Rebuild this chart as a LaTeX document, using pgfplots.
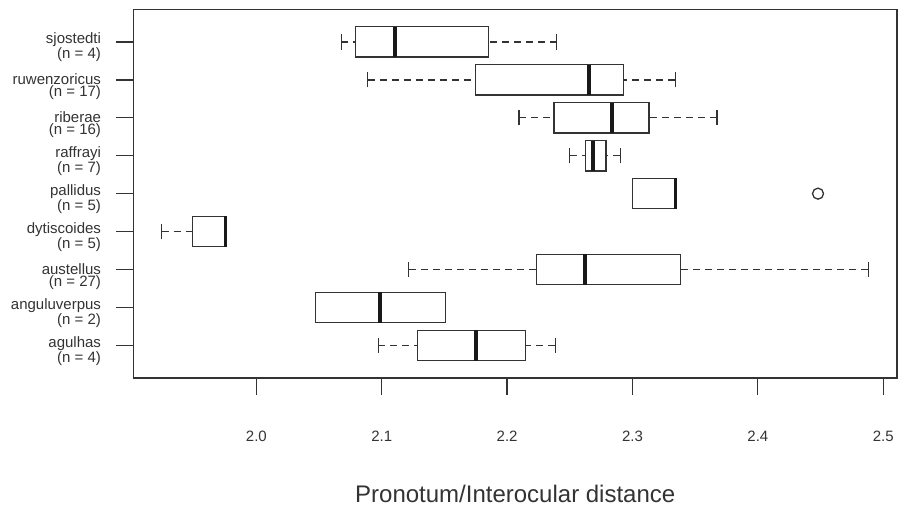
\documentclass[border=0pt]{standalone}
\usepackage{pgfplots}
\pgfplotsset{compat=1.18}
\usepgfplotslibrary{statistics}
\usepackage{fontspec}
\setmainfont{Liberation Sans}
\definecolor{ln}{HTML}{333333}
\pgfplotsset{
  boxplot/draw/lower whisker/.code={%
    \draw[ln, line width=1.3bp, dash pattern=on 7bp off 5bp]
      (boxplot box cs:\pgfplotsboxplotvalue{lower whisker},0.5) -- (boxplot box cs:\pgfplotsboxplotvalue{lower quartile},0.5);
    \draw[ln, line width=1.3bp]
      (boxplot whisker cs:\pgfplotsboxplotvalue{lower whisker},0) -- (boxplot whisker cs:\pgfplotsboxplotvalue{lower whisker},1);
  },
  boxplot/draw/upper whisker/.code={%
    \draw[ln, line width=1.3bp, dash pattern=on 7bp off 5bp]
      (boxplot box cs:\pgfplotsboxplotvalue{upper whisker},0.5) -- (boxplot box cs:\pgfplotsboxplotvalue{upper quartile},0.5);
    \draw[ln, line width=1.3bp]
      (boxplot whisker cs:\pgfplotsboxplotvalue{upper whisker},0) -- (boxplot whisker cs:\pgfplotsboxplotvalue{upper whisker},1);
  },
}
\begin{document}
\begin{tikzpicture}
\path[use as bounding box] (0,0) rectangle (900bp,508bp);
\begin{axis}[
  at={(133.5bp,130bp)}, anchor=south west,
  width=763.5bp, height=368.7bp, scale only axis,
  xmin=1.902, xmax=2.511, ymin=0.14, ymax=9.86,
  xtick={2.0,2.1,2.2,2.3,2.4,2.5},
  xticklabels={2.0,2.1,2.2,2.3,2.4,2.5},
  ytick={1,2,3,4,5,6,7,8,9},
  yticklabels={{agulhas\\(n = 4)},{anguluverpus\\(n = 2)},{austellus\\(n = 27)},{dytiscoides\\(n = 5)},{pallidus\\(n = 5)},{raffrayi\\(n = 7)},{riberae\\(n = 16)},{ruwenzoricus\\(n = 17)},{sjostedti\\(n = 4)}},
  tick pos=left, tick align=outside, major tick length=17bp,
  minor tick num=0,
  /pgf/number format/assume math mode=true,
  axis line style={ln, line width=1.3bp},
  major tick style={ln, line width=1.3bp},
  tick label style={font=\fontsize{15bp}{12bp}\selectfont, text=ln},
  yticklabel style={align=right, anchor=base east, xshift=-12bp, yshift=-17bp},
  xticklabel style={anchor=base, yshift=-46bp},
  xlabel={Pronotum/Interocular distance},
  xlabel style={font=\fontsize{24bp}{28bp}\selectfont, text=ln, at={(axis description cs:0.5,0)}, anchor=base, yshift=-124bp},
  boxplot/box extend=0.8,
  boxplot/whisker extend=0.4,
  boxplot/every box/.style={ln, line width=1.3bp},
  boxplot/every median/.style={black!90, line width=3.5bp},
]
\addplot[ln, boxplot prepared={draw position=1, lower whisker=2.0974, lower quartile=2.1287, median=2.1753, upper quartile=2.2147, upper whisker=2.2384}] coordinates {};
\addplot[ln, boxplot prepared={draw position=2, lower whisker=2.0471, lower quartile=2.0471, median=2.0987, upper quartile=2.1508, upper whisker=2.1508}] coordinates {};
\addplot[ln, boxplot prepared={draw position=3, lower whisker=2.1216, lower quartile=2.2235, median=2.2621, upper quartile=2.3384, upper whisker=2.4882}] coordinates {};
\addplot[ln, boxplot prepared={draw position=4, lower whisker=1.9245, lower quartile=1.9492, median=1.9753, upper quartile=1.9753, upper whisker=1.9753}] coordinates {};
\addplot[ln, boxplot prepared={draw position=5, lower whisker=2.3001, lower quartile=2.3001, median=2.3344, upper quartile=2.3344, upper whisker=2.3344}] coordinates {};
\addplot[ln, boxplot prepared={draw position=6, lower whisker=2.2498, lower quartile=2.2626, median=2.2684, upper quartile=2.2788, upper whisker=2.2902}] coordinates {};
\addplot[ln, boxplot prepared={draw position=7, lower whisker=2.2094, lower quartile=2.2373, median=2.2836, upper quartile=2.3131, upper whisker=2.3674}] coordinates {};
\addplot[ln, boxplot prepared={draw position=8, lower whisker=2.0889, lower quartile=2.1748, median=2.2652, upper quartile=2.2929, upper whisker=2.3341}] coordinates {};
\addplot[ln, boxplot prepared={draw position=9, lower whisker=2.0678, lower quartile=2.0790, median=2.1104, upper quartile=2.1852, upper whisker=2.2394}] coordinates {};
\addplot[only marks, mark=o, mark size=5.5bp, ln, line width=1.3bp] coordinates {(2.448,5)};
\end{axis}
\end{tikzpicture}
\end{document}
